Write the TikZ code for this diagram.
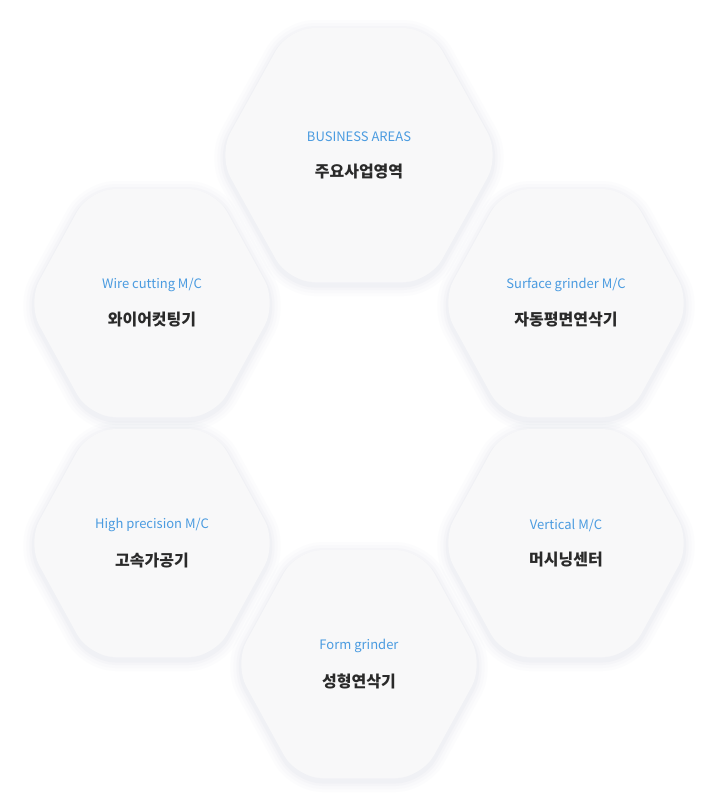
\documentclass[tikz,border=0pt]{standalone}
\usepackage{fontspec}
\setmainfont{Noto Sans CJK KR}
\newfontfamily\krb[FakeBold=0]{Noto Sans CJK KR Bold}
\definecolor{hexfill}{HTML}{F8F8F9}
\definecolor{shad}{HTML}{C9D2DC}
\definecolor{eng}{HTML}{4A9BE0}
\definecolor{kor}{HTML}{2A2A2A}
\tikzset{
  en/.style={text=eng,font=\fontsize{13}{15}\selectfont},
  ko/.style={text=kor,font=\fontsize{16}{19}\selectfont\bfseries},
}
\newcommand{\hexpath}[4]{% cx cy halfwidth halfheight
  (#1-#3,#2) -- (#1-#3/2,#2-#4) -- (#1+#3/2,#2-#4) -- (#1+#3,#2) -- (#1+#3/2,#2+#4) -- (#1-#3/2,#2+#4) -- cycle}
\newcommand{\hexa}[7]{% name cx cy hw hh en ko
  \foreach \w/\o in {22/0.05,16/0.06,10/0.08,5/0.1}{
    \draw[shad,line width=\w pt,opacity=\o,rounded corners=26pt,line join=round] \hexpath{#2}{#3+3}{#4}{#5};}
  \fill[hexfill,rounded corners=26pt] \hexpath{#2}{#3}{#4}{#5};
  \node[en] (#1e) at (#2,#3-18) {#6};
  \node[ko] (#1k) at (#2,#3+17) {#7};
}
\begin{document}
\begin{tikzpicture}[x=1pt,y=-1pt]
\useasboundingbox[fill=white] (0,0) rectangle (718,807);
\hexa{a}{359}{155}{141}{127}{BUSINESS AREAS}{주요사업영역}
\hexa{b}{152}{303}{125}{114}{Wire cutting M/C}{와이어컷팅기}
\hexa{c}{566}{303}{125}{114}{Surface grinder M/C}{자동평면연삭기}
\hexa{d}{152}{543}{125}{114}{High precision M/C}{고속가공기}
\hexa{e}{566}{543}{125}{114}{Vertical M/C}{머시닝센터}
\hexa{f}{359}{664}{125}{114}{Form grinder}{성형연삭기}
\end{tikzpicture}
\end{document}
